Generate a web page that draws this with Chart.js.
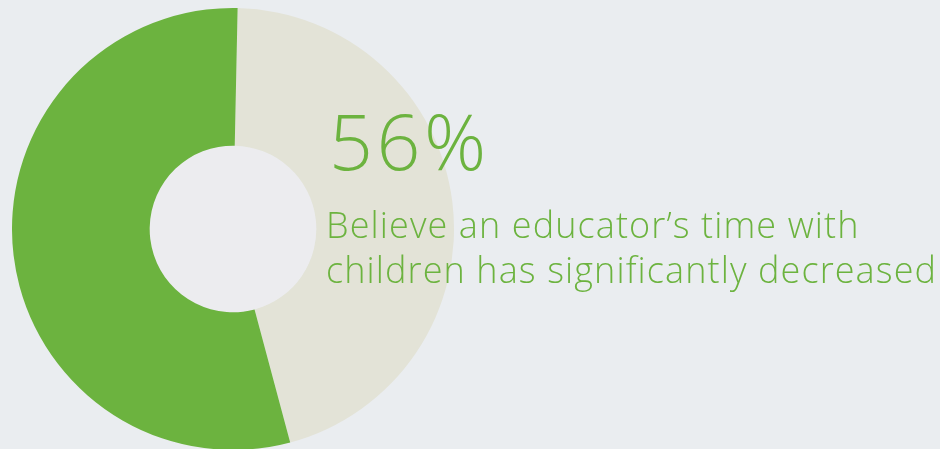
<!DOCTYPE html>
<html>
<head>
<meta charset="utf-8">
<script src="https://cdn.jsdelivr.net/npm/chart.js@4/dist/chart.umd.min.js"></script>
<style>
  html, body { margin: 0; padding: 0; width: 940px; height: 449px; overflow: hidden; background: #eaedf0; }
  #wrap { position: absolute; left: 11.5px; top: 8px; width: 442px; height: 442px; }
  .big { position: absolute; left: 329px; top: 91px; font-family: "Open Sans", sans-serif; font-weight: 300;
         font-size: 77px; line-height: 100px; color: #6cb33f; letter-spacing: 3.5px; white-space: nowrap; }
  .sub { position: absolute; left: 326px; top: 202px; font-family: "Open Sans", sans-serif; font-weight: 300;
         font-size: 36px; line-height: 45px; color: #6cb33f; letter-spacing: 1.1px; white-space: nowrap; }
</style>
</head>
<body>
<div id="wrap"><canvas id="mycanvas"></canvas></div>
<div class="big" id="bigText"></div>
<div class="sub" id="subText"></div>
<script>
// slices as drawn, clockwise from the top
var labels = ["Other", "Believe time has significantly decreased"];
var values = [45.5, 54.5];
var colors = ["#e3e3d7", "#6cb33f"];
var headline = "56%";
var caption = ["Believe an educator\u2019s time with", "children has significantly decreased"];

document.getElementById("bigText").textContent = headline;
document.getElementById("subText").innerHTML = caption.join("<br>");

// light hole in the middle
var holePlugin = {
	id: "hole",
	beforeDatasetsDraw: function(chart) {
		var meta = chart.getDatasetMeta(0);
		var arc = meta.data[0];
		var ctx = chart.ctx;
		ctx.save();
		ctx.fillStyle = "#ececef";
		ctx.beginPath();
		ctx.arc(arc.x, arc.y, arc.innerRadius, 0, Math.PI * 2);
		ctx.fill();
		ctx.restore();
	}
};

var ctx = document.getElementById("mycanvas");
var donut = new Chart(ctx, {
	type: 'doughnut',
	data: {
		labels: labels,
		datasets: [
			{
				data: values,
				backgroundColor: colors,
				borderWidth: 0,
				hoverOffset: 0
			}
		]
	},
	options: {
		responsive: true,
		maintainAspectRatio: false,
		animation: false,
		rotation: 1.2,
		cutout: '37.7%',
		layout: { padding: 0 },
		plugins: {
			legend: { display: false },
			tooltip: { enabled: false }
		}
	},
	plugins: [holePlugin]
});
</script>
</body>
</html>
